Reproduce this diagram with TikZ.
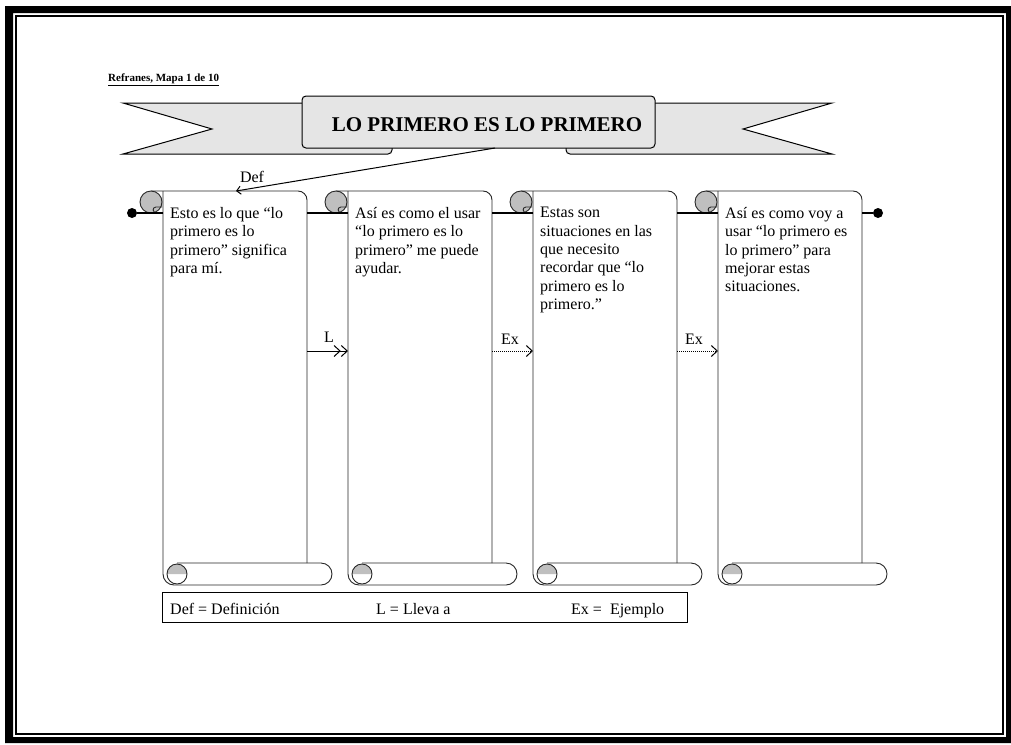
\documentclass[tikz,border=0pt]{standalone}
\usepackage{fontspec}
\setmainfont{Liberation Serif}
\usetikzlibrary{arrows.meta}

\begin{document}
\begin{tikzpicture}[x=1pt,y=-1pt, >={Straight Barb[length=6pt,width=11pt]}]
	% STYLES
	\tikzstyle{cadre} = [fill=black, even odd rule]
	\tikzstyle{filet} = [line width=1.2pt, draw=black]
	\tikzstyle{bande} = [line width=1pt, draw=black, fill=gray!20]
	\tikzstyle{rouleau} = [line width=0.9pt, draw=black!85]
	\tikzstyle{boucle} = [rouleau, fill=gray!50]
	\tikzstyle{lien} = [line width=2pt, draw=black]
	\tikzstyle{point} = [circle, fill=black, inner sep=0pt, minimum size=10pt]
	\tikzstyle{fleche} = [line width=1pt, draw=black, ->>]
	\tikzstyle{pointilles} = [line width=1pt, draw=black, densely dotted, ->]

	\tikzstyle{etiquette} = [inner sep=0pt, font=\fontsize{16}{18}\selectfont]
	\tikzstyle{texte} = [anchor=north west, align=left, inner sep=0pt, font=\fontsize{16}{18.4}\selectfont]
	\tikzstyle{cle} = [anchor=base west, inner sep=0pt, font=\fontsize{16}{18}\selectfont]

	\useasboundingbox (0,0) rectangle (1011,744);

	% CADRE
	\fill[cadre] (5,6) rectangle (1011,743) (13,13) rectangle (1006,737);
	\path[filet] (16,16) rectangle (1003,734);

	\node[anchor=base west, inner sep=0pt, font=\bfseries\fontsize{11}{13}\selectfont] (mapa) at (108,81) {\underline{Refranes, Mapa 1 de 10}};

	% BANDEROLE
	\path[bande] (212,129) -- (123,103) -- (392,103) [rounded corners=4] -- (392,154) [sharp corners] -- (123,154) -- cycle;
	\path[bande] (743,129) -- (832,103) -- (566,103) [rounded corners=4] -- (566,154) [sharp corners] -- (832,154) -- cycle;
	\path[bande, rounded corners=4] (302,96) rectangle (655,148);
	\node[font=\bfseries\fontsize{21}{24}\selectfont] (titre) at (487,125) {LO PRIMERO ES LO PRIMERO};

	% ROULEAUX
	\foreach \i/\x in {1/163, 2/348, 3/533, 4/718}{
		\path[rouleau, rounded corners=9] (\x-12,191) -- (\x+144,191) -- (\x+144,563);
		\path[rouleau, rounded corners=11] (\x,191) -- (\x,585) -- (\x+169,585) -- (\x+169,563) -- (\x+14,563);
		\path[boucle] (\x-12,202) circle[radius=11];
		\path[rouleau] (\x-1,207) -- (\x-7,207) .. controls (\x-11,207) and (\x-11,213) .. (\x-6,213) -- (\x,213);
		\fill[gray!50] (\x+4,574) arc[start angle=180, end angle=360, radius=10] -- cycle;
		\path[rouleau] (\x+14,574) circle[radius=10];
		\coordinate (g\i) at (\x,213);
		\coordinate (d\i) at (\x+144,213);
		\coordinate (mg\i) at (\x,351);
		\coordinate (md\i) at (\x+144,351);
	}

	\node[texte] (t1) at (170,207) {Esto es lo que “lo\\primero es lo\\primero” significa\\para mí.};
	\node[texte] (t2) at (355,207) {Así es como el usar\\“lo primero es lo\\primero” me puede\\ayudar.};
	\node[texte] (t3) at (540,207) {Estas son\\situaciones en las\\que necesito\\recordar que “lo\\primero es lo\\primero.”};
	\node[texte] (t4) at (725,207) {Así es como voy a\\usar “lo primero es\\lo primero” para\\mejorar estas\\situaciones.};

	% LIENS
	\node[point] (pg) at (132,213) {};
	\node[point] (pd) at (878,213) {};
	\path[lien] (pg) -- (g1);
	\path[lien] (d1) -- (g2);
	\path[lien] (d2) -- (g3);
	\path[lien] (d3) -- (g4);
	\path[lien] (d4) -- (pd);

	\coordinate (bas) at (495,148);
	\coordinate (haut) at (236,191);
	\path[line width=1pt, draw=black, -{Straight Barb[length=4pt,width=8pt]}] (bas) -- (haut);
	\node[etiquette] (ldef) at (252,177) {Def};

	\path[fleche] (md1) -- (mg2);
	\node[etiquette] (ll) at (329,337) {L};
	\path[pointilles] (md2) -- (mg3);
	\node[etiquette] (lex1) at (510,339) {Ex};
	\path[pointilles] (md3) -- (mg4);
	\node[etiquette] (lex2) at (694,339) {Ex};

	% LEGENDE
	\node[draw, line width=1pt, minimum width=525pt, minimum height=30pt, inner sep=0pt] (legende) at (424.5,607) {};
	\node[cle] (cdef) at (170,614) {Def = Definición};
	\node[cle] (cl) at (376,614) {L = Lleva a};
	\node[cle] (cex) at (571,614) {Ex = \ Ejemplo};
\end{tikzpicture}
\end{document}
